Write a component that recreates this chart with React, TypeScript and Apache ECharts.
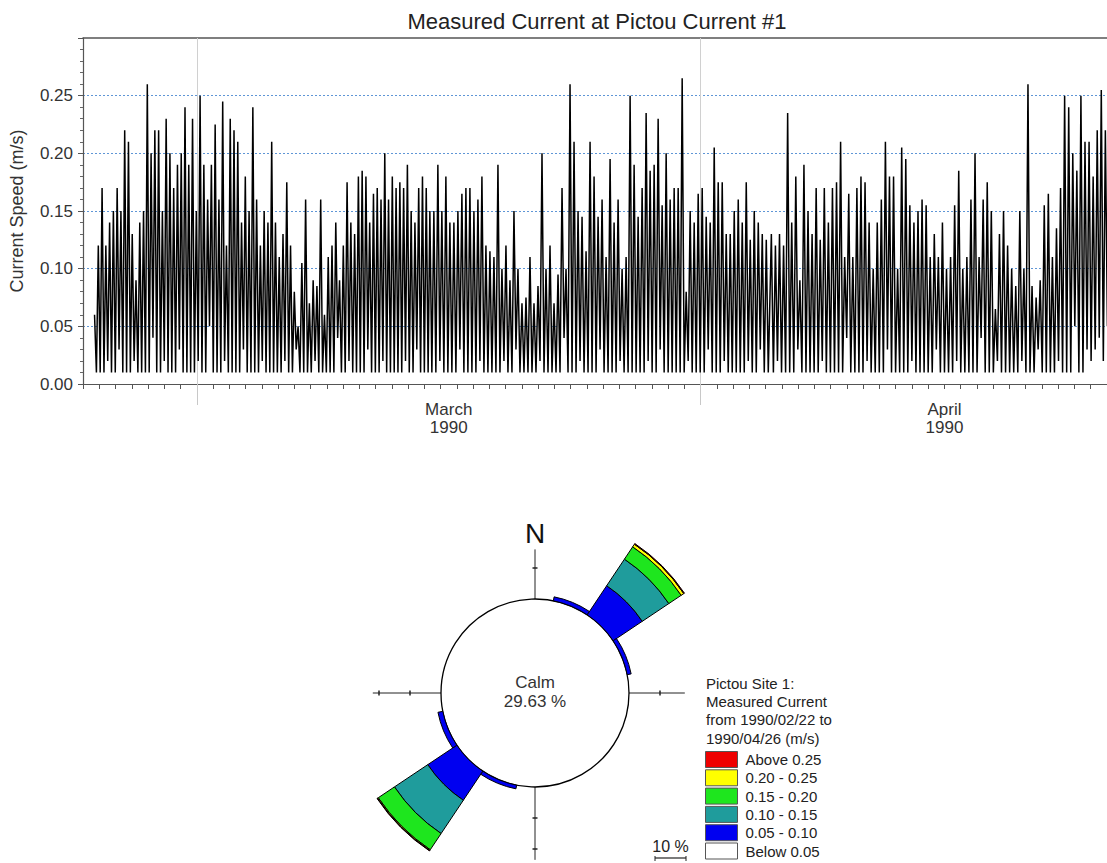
import React, { useEffect, useRef } from "react";
import * as echarts from "echarts";

const FONT = "'Liberation Sans', Arial, Helvetica, sans-serif";

// ---------------- Time series ----------------
// x = days after 1990-02-22 00:00 ; values in cm/s
const TITLE = "Measured Current at Pictou Current #1";
const Y_NAME = "Current Speed (m/s)";
const Y_MAX = 0.3;
const X_MAX_DAYS = 63;
const MONTH_STARTS = [7, 38];
const MONTH_LABELS = [
  { day: 22.5, text: "March\n1990" },
  { day: 53, text: "April\n1990" },
];

const SEG_A = { start: 0.71, step: 0.2319 };
const PEAKS_A = [
  6, 12, 17, 12, 14, 15, 17, 15, 22, 21, 13, 9, 14, 15, 26, 20, 22, 22, 15, 23,
  20, 17, 19, 20, 24, 19, 23, 15, 25, 19, 16, 19, 22.5, 16, 24.5, 12, 23, 22, 21, 14,
  18, 15, 24, 16, 12, 15, 14, 21, 14, 11, 13, 17.5, 12, 8, 5, 10.5, 16, 7, 9, 8.5,
  16, 6, 11, 12, 14, 9, 12, 17.5, 14, 13, 18, 18.5, 18, 14, 16.5, 17, 16, 20, 16, 18,
  17, 17.5, 17, 19, 15, 14, 17, 18, 17,
];
const TROUGHS_A = [
  1, 1, 1, 2, 1, 1, 3, 1, 1, 1, 2, 1, 1, 1, 1, 4, 1, 1, 2, 1,
  1, 1, 3, 1, 1, 1, 1, 2, 1, 1, 5, 1, 1, 1, 2, 1, 1, 1, 1, 3,
  1, 1, 1, 1, 2, 1, 1, 1, 1, 1, 2, 1, 1, 3, 1, 1, 1, 1, 2, 1,
  1, 1, 1, 1, 4, 1, 1, 2, 1, 1, 1, 1, 3, 1, 1, 1, 2, 1, 1, 1,
  1, 1, 2, 1, 1, 3, 1, 1, 1,
];

const SEG_B = { start: 21.34, step: 0.2464 };
const PEAKS_B = [
  15, 15, 19, 15, 18, 14, 14, 15, 16.5, 17, 17, 15, 16, 18, 12, 11.5, 11, 19, 10, 12,
  9, 15, 10, 7, 7.5, 11, 7, 8.5, 20, 10, 12, 7, 9.5, 17, 10, 26, 21, 15, 14.5, 11.5,
  21, 18, 14.5, 16, 11, 19.5, 14, 16, 10, 11, 25, 19, 14.5, 17, 23.5, 18.5, 19, 23, 15.5, 20,
  16, 17, 17, 26.5, 8, 15, 14, 16.5, 17, 14.5, 14, 20.5, 17.5, 17.5, 13, 13, 15, 16, 14, 17.5,
  12.5, 15, 14, 13, 12.5,
];
const TROUGHS_B = [
  1, 1, 2, 1, 1, 1, 1, 3, 1, 1, 1, 1, 2, 1, 1, 1, 1, 1, 2, 1,
  1, 3, 1, 1, 1, 1, 1, 2, 1, 1, 1, 1, 1, 4, 1, 1, 1, 2, 1, 1,
  1, 1, 3, 1, 1, 1, 1, 2, 1, 1, 1, 1, 1, 1, 2, 1, 1, 3, 1, 1,
  1, 1, 1, 1, 2, 1, 1, 1, 1, 3, 1, 1, 1, 2, 1, 1, 1, 1, 1, 2,
  1, 1, 3, 1, 1,
];

const SEG_C = { start: 42.35, step: 0.2506 };
const PEAKS_C = [
  13, 12, 13, 12, 23.5, 14, 18, 9, 19, 15, 13, 17, 12.5, 17, 14, 17, 17.5, 21, 11, 16.5,
  11, 17, 18, 17.5, 14, 10, 14, 16, 21, 18, 18, 10, 20.5, 19.5, 15.5, 14, 15, 16, 15.5, 11,
  13, 11, 14, 10, 11, 15.5, 18.5, 10, 11, 16, 20, 11, 16, 17.5, 15, 6.5, 13, 15, 12, 10,
  8.5, 15, 10, 26, 8.5, 7.5, 9, 15.5, 16.5, 11, 13.5, 17, 25, 24, 20, 18.5, 25, 21, 21, 18,
  22, 25.5, 22,
];
const TROUGHS_C = [
  1, 2, 1, 1, 1, 1, 3, 1, 1, 1, 1, 1, 2, 1, 1, 1, 1, 1, 4, 1,
  1, 1, 1, 2, 1, 1, 1, 1, 3, 1, 1, 1, 1, 1, 2, 1, 1, 1, 1, 1,
  3, 1, 1, 1, 1, 2, 1, 1, 1, 1, 1, 4, 1, 1, 1, 2, 1, 1, 1, 1,
  1, 2, 1, 1, 1, 3, 1, 1, 1, 1, 2, 1, 1, 1, 5, 1, 1, 3, 2, 3,
  4, 2, 5,
];

// ---------------- Current rose ----------------
const DIRECTIONS = ["N", "NNE", "NE", "ENE", "E", "ESE", "SE", "SSE", "S", "SSW", "SW", "WSW", "W", "WNW", "NW", "NNW"];
const CALM_PCT = "29.63 %";
const PCT_005_010 = [0, 1.3, 11.3, 1.3, 0, 0, 0, 0, 0, 1.2, 11.3, 1.6, 0, 0, 0, 0];
const PCT_010_015 = [0, 0, 10.3, 0, 0, 0, 0, 0, 0, 0, 12.9, 0, 0, 0, 0, 0];
const PCT_015_020 = [0, 0, 4.8, 0, 0, 0, 0, 0, 0, 0, 6.3, 0, 0, 0, 0, 0];
const PCT_020_025 = [0, 0, 1.0, 0, 0, 0, 0, 0, 0, 0, 0.3, 0, 0, 0, 0, 0];
const PCT_ABOVE_025 = [0, 0, 0.25, 0, 0, 0, 0, 0, 0, 0, 0.15, 0, 0, 0, 0, 0];
const ROSE_BINS = [
  { name: "0.05 - 0.10", color: "#0000f0", data: PCT_005_010 },
  { name: "0.10 - 0.15", color: "#1f9c9c", data: PCT_010_015 },
  { name: "0.15 - 0.20", color: "#1ee61e", data: PCT_015_020 },
  { name: "0.20 - 0.25", color: "#ffff00", data: PCT_020_025 },
  { name: "Above 0.25", color: "#ee0000", data: PCT_ABOVE_025 },
];
const BELOW_NAME = "Below 0.05";
const LEGEND_ORDER = ["Above 0.25", "0.20 - 0.25", "0.15 - 0.20", "0.10 - 0.15", "0.05 - 0.10", "Below 0.05"];
const LEGEND_TITLE = "Pictou Site 1:\nMeasured Current\nfrom 1990/02/22 to\n1990/04/26 (m/s)";
const SCALE_PCT = 10;
const ARMS = [
  { bearing: 0, pct: 16 },
  { bearing: 90, pct: 18 },
  { bearing: 180, pct: 23.5 },
  { bearing: 270, pct: 22 },
];
const ARM_TICKS = [10, 20];

// layout constants
const ROSE_C = { x: 535, y: 693 };
const R0 = 94;
const PX_PER_PCT = 3.1;
const R_MAX_PCT = 35;

function buildSegment(seg: { start: number; step: number }, peaks: number[], troughs: number[]) {
  const out: number[][] = [];
  peaks.forEach((p, i) => {
    out.push([seg.start + i * seg.step, p / 100]);
    out.push([seg.start + (i + 0.5) * seg.step, troughs[i] / 100]);
  });
  return out;
}

export default function App() {
  const ref = useRef<HTMLDivElement>(null);
  useEffect(() => {
    if (!ref.current) return;
    const chart = echarts.init(ref.current, undefined, { renderer: "svg" });

    const tsData = [
      ...buildSegment(SEG_A, PEAKS_A, TROUGHS_A),
      ...buildSegment(SEG_B, PEAKS_B, TROUGHS_B),
      ...buildSegment(SEG_C, PEAKS_C, TROUGHS_C),
    ];

    const graphics: any[] = [];
    graphics.push({
      type: "text",
      x: 597,
      y: 21,
      style: { text: TITLE, fontSize: 22, fontFamily: FONT, fill: "#222", textAlign: "center", textVerticalAlign: "middle" },
    });
    // compass arms
    ARMS.forEach((a) => {
      const rad = (a.bearing * Math.PI) / 180;
      const dx = Math.sin(rad);
      const dy = -Math.cos(rad);
      const r1 = R0 + a.pct * PX_PER_PCT;
      graphics.push({
        type: "line",
        shape: { x1: ROSE_C.x + dx * R0, y1: ROSE_C.y + dy * R0, x2: ROSE_C.x + dx * r1, y2: ROSE_C.y + dy * r1 },
        style: { stroke: "#222", lineWidth: 1 },
      });
      ARM_TICKS.filter((t) => t < a.pct).forEach((t) => {
        const r = R0 + t * PX_PER_PCT;
        const px = ROSE_C.x + dx * r;
        const py = ROSE_C.y + dy * r;
        graphics.push({
          type: "line",
          shape: { x1: px - dy * 2.5, y1: py + dx * 2.5, x2: px + dy * 2.5, y2: py - dx * 2.5 },
          style: { stroke: "#222", lineWidth: 1.5 },
        });
      });
    });
    graphics.push({
      type: "circle",
      shape: { cx: ROSE_C.x, cy: ROSE_C.y, r: R0 },
      style: { fill: "none", stroke: "#000", lineWidth: 1.3 },
    });
    graphics.push({
      type: "text",
      x: ROSE_C.x,
      y: ROSE_C.y - 1,
      style: { text: "Calm\n" + CALM_PCT, fontSize: 17, lineHeight: 19, fontFamily: FONT, fill: "#333", textAlign: "center", textVerticalAlign: "middle" },
    });
    graphics.push({
      type: "text",
      x: ROSE_C.x,
      y: 533,
      style: { text: "N", fontSize: 28, fontFamily: FONT, fill: "#111", textAlign: "center", textVerticalAlign: "middle" },
    });
    // scale bar
    const sbX = 655;
    const sbY = 858;
    const sbW = SCALE_PCT * PX_PER_PCT;
    graphics.push({
      type: "text",
      x: sbX + sbW / 2,
      y: 846,
      style: { text: SCALE_PCT + " %", fontSize: 16, fontFamily: FONT, fill: "#222", textAlign: "center", textVerticalAlign: "middle" },
    });
    graphics.push({ type: "line", shape: { x1: sbX, y1: sbY, x2: sbX + sbW, y2: sbY }, style: { stroke: "#222", lineWidth: 1.2 } });
    graphics.push({ type: "line", shape: { x1: sbX, y1: sbY - 2, x2: sbX, y2: sbY + 3 }, style: { stroke: "#222", lineWidth: 1 } });
    graphics.push({ type: "line", shape: { x1: sbX + sbW, y1: sbY - 2, x2: sbX + sbW, y2: sbY + 3 }, style: { stroke: "#222", lineWidth: 1 } });
    // legend title
    graphics.push({
      type: "text",
      x: 706,
      y: 674,
      style: { text: LEGEND_TITLE, fontSize: 15, lineHeight: 18.3, fontFamily: FONT, fill: "#222", textAlign: "left", textVerticalAlign: "top" },
    });

    const roseSeries = ROSE_BINS.map((b) => ({
      type: "bar",
      name: b.name,
      coordinateSystem: "polar",
      stack: "rose",
      barCategoryGap: "0%",
      barGap: "0%",
      itemStyle: { color: b.color, borderColor: "#000", borderWidth: 1 },
      data: b.data.map((v) => (v > 0 ? v : null)),
      silent: true,
      z: 2,
    }));

    const option: any = {
      animation: false,
      backgroundColor: "#ffffff",
      textStyle: { fontFamily: FONT },
      grid: { left: 83, top: 38, width: 1024, height: 346, outerBoundsMode: "none", containLabel: false },
      xAxis: [
        {
          type: "value",
          min: 0,
          max: X_MAX_DAYS,
          interval: 1,
          position: "bottom",
          axisLine: { show: true, lineStyle: { color: "#555", width: 1.2 } },
          axisTick: { show: true, inside: false, length: 5, lineStyle: { color: "#555", width: 1 } },
          axisLabel: {
            show: true,
            customValues: MONTH_LABELS.map((m) => m.day),
            formatter: (v: number) => {
              const m = MONTH_LABELS.find((x) => Math.abs(x.day - v) < 0.01);
              return m ? m.text : "";
            },
            fontSize: 17,
            lineHeight: 18,
            color: "#333",
            margin: 16,
            fontFamily: FONT,
          },
          splitLine: { show: false },
        },
        {
          type: "value",
          min: 0,
          max: X_MAX_DAYS,
          position: "bottom",
          axisLine: { show: false },
          axisTick: { show: true, customValues: MONTH_STARTS, length: 21, lineStyle: { color: "#c8c8c8", width: 1 } },
          axisLabel: { show: false },
          splitLine: { show: false },
        },
        {
          type: "value",
          min: 0,
          max: X_MAX_DAYS,
          position: "top",
          axisLine: { show: true, lineStyle: { color: "#555", width: 1.5 } },
          axisTick: { show: false },
          axisLabel: { show: false },
          splitLine: { show: false },
        },
      ],
      yAxis: {
        type: "value",
        min: 0,
        max: Y_MAX,
        interval: 0.05,
        name: Y_NAME,
        nameLocation: "middle",
        nameGap: 57,
        nameTextStyle: { fontSize: 18, color: "#333", fontFamily: FONT },
        axisLine: { show: true, lineStyle: { color: "#555", width: 1.2 } },
        axisTick: { show: true, inside: false, length: 5, lineStyle: { color: "#555" } },
        minorTick: { show: true, splitNumber: 5, length: 3, lineStyle: { color: "#666" } },
        axisLabel: {
          formatter: (v: number) => (v > Y_MAX - 0.001 ? "" : v.toFixed(2)),
          fontSize: 17,
          color: "#333",
          margin: 10,
          fontFamily: FONT,
        },
        splitLine: {
          show: true,
          showMinLine: false,
          showMaxLine: false,
          lineStyle: { color: "#5f96d6", type: [2, 2], width: 1 },
        },
      },
      polar: { center: [ROSE_C.x, ROSE_C.y], radius: [R0, R0 + R_MAX_PCT * PX_PER_PCT] },
      angleAxis: {
        type: "category",
        data: DIRECTIONS,
        startAngle: 90 + 360 / DIRECTIONS.length / 2,
        clockwise: true,
        boundaryGap: true,
        axisLine: { show: false },
        axisTick: { show: false },
        axisLabel: { show: false },
        splitLine: { show: false },
      },
      radiusAxis: {
        type: "value",
        min: 0,
        max: R_MAX_PCT,
        axisLine: { show: false },
        axisTick: { show: false },
        axisLabel: { show: false },
        splitLine: { show: false },
      },
      legend: {
        orient: "vertical",
        left: 705,
        top: 751,
        height: 140,
        padding: 0,
        itemWidth: 32,
        itemHeight: 16,
        itemGap: 1.3,
        icon: "rect",
        selectedMode: false,
        data: LEGEND_ORDER,
        itemStyle: { borderColor: "#555", borderWidth: 1 },
        textStyle: { fontSize: 15, color: "#222", fontFamily: FONT, padding: [0, 0, 0, 3] },
      },
      graphic: graphics,
      series: [
        {
          type: "line",
          name: "speed",
          xAxisIndex: 0,
          yAxisIndex: 0,
          data: tsData,
          showSymbol: false,
          symbol: "none",
          silent: true,
          z: 3,
          lineStyle: { color: "#000", width: 1.5 },
          markLine: {
            z: 1,
            silent: true,
            symbol: ["none", "none"],
            label: { show: false },
            lineStyle: { color: "#d0d0d0", width: 1, type: "solid" },
            data: MONTH_STARTS.map((d) => ({ xAxis: d })),
          },
        },
        ...roseSeries,
        {
          type: "bar",
          name: BELOW_NAME,
          coordinateSystem: "polar",
          stack: "rose",
          itemStyle: { color: "#ffffff", borderColor: "#000", borderWidth: 1 },
          data: [],
        },
      ],
    };
    chart.setOption(option);
    return () => chart.dispose();
  }, []);

  return <div ref={ref} style={{ position: "absolute", left: 0, top: 0, width: 1107, height: 863, background: "#fff" }} />;
}
